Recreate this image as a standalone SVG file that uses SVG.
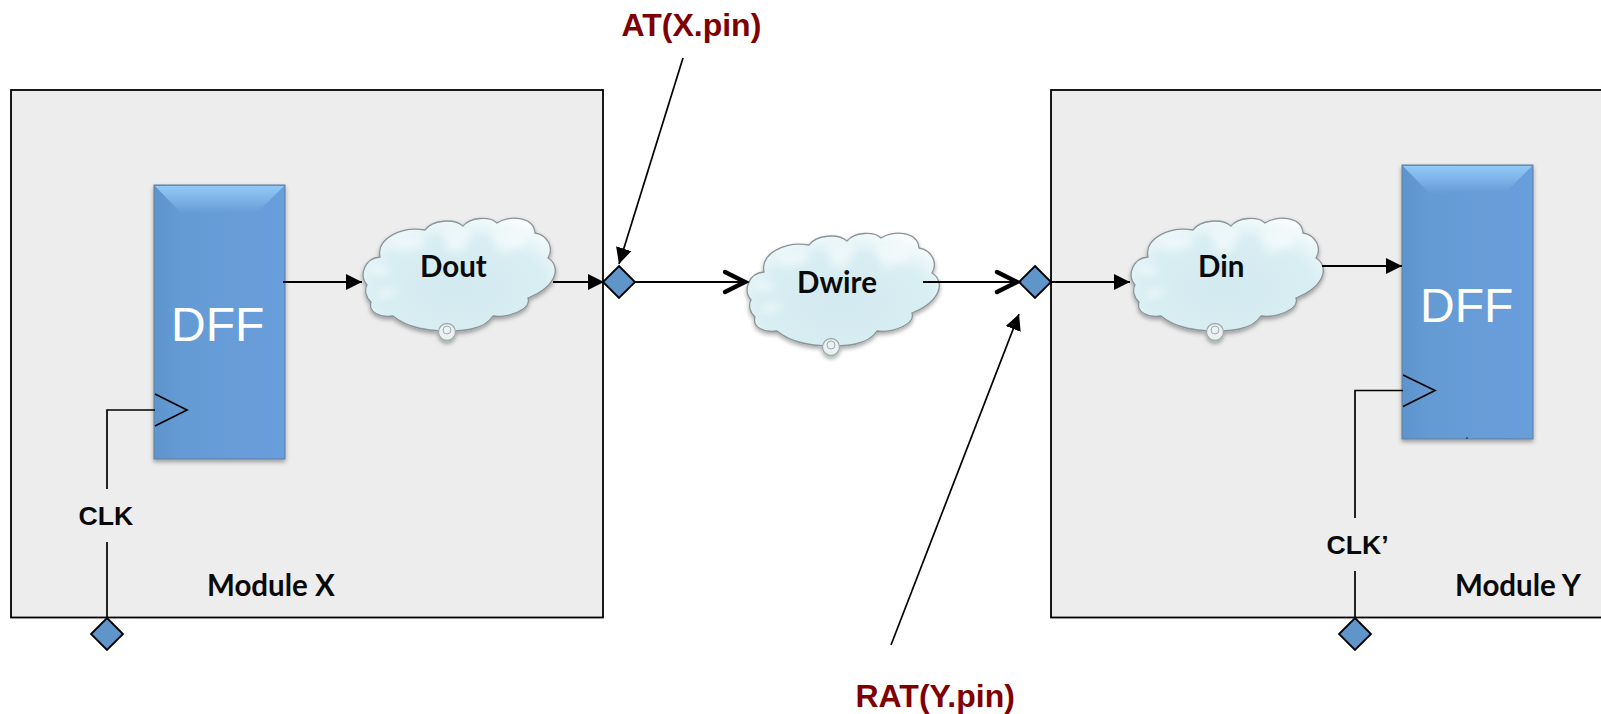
<svg xmlns="http://www.w3.org/2000/svg" width="1601" height="714" viewBox="0 0 1601 714">
<style>
.module{fill:#ededed;stroke:#000;stroke-width:1.8}
.pin{fill:#5f95c9;stroke:#000;stroke-width:1.8}
.wire{fill:none;stroke:#000;stroke-width:1.9}
.thin{fill:none;stroke:#000;stroke-width:1.7}
.chev{fill:none;stroke:#000;stroke-width:4.4;stroke-linecap:round;stroke-linejoin:miter}
.lbl{font-family:"Lato","Liberation Sans",sans-serif;font-weight:700;font-size:29.5px;fill:#0a0a0a}
.clk{font-family:"Liberation Sans",Arial,sans-serif;font-weight:700;font-size:26.6px;fill:#0a0a0a}
.tim{font-family:"Liberation Sans",Arial,sans-serif;font-weight:700;font-size:32px;fill:#7f0000}
.dff{font-family:"Liberation Sans",Arial,sans-serif;font-size:48px;fill:#fff}
</style>
<defs>
<marker id="head" markerUnits="userSpaceOnUse" markerWidth="16" markerHeight="16" refX="16" refY="8" orient="auto"><path d="M0 0L16 8L0 16Z" fill="#000"/></marker>
<linearGradient id="dffBody" x1="0" y1="0" x2="1" y2="0"><stop offset="0" stop-color="#5e94cc"/><stop offset="0.2" stop-color="#659bd4"/><stop offset="1" stop-color="#689edc"/></linearGradient>
<linearGradient id="dffTop" x1="0" y1="0" x2="0" y2="1"><stop offset="0" stop-color="#93c9f7"/><stop offset="1" stop-color="#669cd7"/></linearGradient>
<radialGradient id="cloudFill" cx="0.5" cy="0.62" r="0.68"><stop offset="0" stop-color="#d2e9ef"/><stop offset="0.65" stop-color="#d8eef3"/><stop offset="1" stop-color="#fbfdfd"/></radialGradient>
<filter id="soft" x="-10%" y="-10%" width="120%" height="125%"><feDropShadow dx="0" dy="2.500" stdDeviation="2" flood-color="#000" flood-opacity="0.35"/></filter>
<filter id="blur" x="-30%" y="-30%" width="160%" height="160%"><feGaussianBlur stdDeviation="4.500"/></filter>
<symbol id="dffShape" width="135" height="282" viewBox="0 0 135 282" overflow="visible">
<rect x="0" y="0" width="131" height="274" fill="url(#dffBody)" stroke="#5d7f9f" stroke-width="1" filter="url(#soft)"/>
<path d="M1 1H130L103 28H27Z" fill="url(#dffTop)"/>
</symbol>
<symbol id="cloud" width="200" height="135" viewBox="0 0 200 135" overflow="visible">
<g filter="url(#soft)">
<path d="M5 67C-3 58 2 40 18 39C14 20 40 8 63 12C70 2 92 0 101 8C108 -1 128 -2 135 5C146 -3 172 -2 173 15C186 17 192 30 186 40C199 48 196 68 166 80C170 92 145 100 131 98C122 112 98 114 85 112C70 114 45 110 31 98C18 100 6 94 9 84C4 80 2 72 5 67Z" fill="url(#cloudFill)" stroke="#8a9496" stroke-width="1.300"/>
<circle cx="85" cy="114" r="8.500" fill="#e9f1f2" stroke="#a2abad" stroke-width="1.300"/>
<circle cx="85" cy="112" r="4" fill="none" stroke="#a2abad" stroke-width="1"/>
</g>
<g fill="#fff" opacity="0.55" filter="url(#blur)">
<path d="M10 50L22 46L28 56L12 58Z"/>
<path d="M16 72L38 70L30 78L16 80Z"/>
<path d="M30 24L60 18L64 28L38 34Z"/>
<path d="M80 12L110 12L102 34L86 34Z"/>
<path d="M128 14L162 12L164 28L138 36Z"/>
</g>
</symbol>
</defs>
<rect width="1601" height="714" fill="#fff"/>

<g id="module-x"><rect class="module" x="11" y="90" width="592" height="527.500"/><text class="lbl" x="207" y="596">Module X</text></g>
<g id="module-y"><rect class="module" x="1051" y="90" width="560" height="527.500"/><text class="lbl" x="1455" y="596">Module Y</text></g>

<g id="dff-x"><use href="#dffShape" x="154" y="185"/><text class="dff" x="171" y="341">DFF</text></g>
<g id="dff-y"><use href="#dffShape" x="1402" y="165"/><line x1="1467" y1="437" x2="1467" y2="439" stroke="#222" stroke-width="1"/><text class="dff" x="1420" y="322">DFF</text></g>
<g id="dout"><use href="#cloud" x="362" y="218"/><text class="lbl" x="420" y="277">Dout</text></g>
<g id="dwire"><use href="#cloud" x="746" y="233"/><text class="lbl" x="797" y="293">Dwire</text></g>
<g id="din"><use href="#cloud" x="1130" y="218"/><text class="lbl" x="1198" y="277">Din</text></g>

<g id="pin-x-out"><path class="pin" d="M619 266L635 282L619 298L603 282Z"/></g>
<g id="pin-y-in"><path class="pin" d="M1035 266L1051 282L1035 298L1019 282Z"/></g>
<g id="pin-clk"><path class="pin" d="M107 618L123 634L107 650L91 634Z"/></g>
<g id="pin-clk2"><path class="pin" d="M1355 618L1371 634L1355 650L1339 634Z"/></g>

<g id="connectors">
<line class="wire" x1="283" y1="282" x2="362" y2="282" marker-end="url(#head)"/>
<line class="wire" x1="553" y1="282" x2="604" y2="282" marker-end="url(#head)"/>
<line class="wire" x1="635" y1="282" x2="745" y2="282"/>
<path class="chev" d="M725 272L745 282L725 292"/>
<line class="wire" x1="923" y1="282" x2="1017" y2="282"/>
<path class="chev" d="M997 272L1017 282L997 292"/>
<line class="wire" x1="1051" y1="282" x2="1130" y2="282" marker-end="url(#head)"/>
<line class="wire" x1="1322" y1="266" x2="1402" y2="266" marker-end="url(#head)"/>
<line class="thin" x1="683" y1="58" x2="619" y2="264" marker-end="url(#head)"/>
<line class="thin" x1="891" y1="645" x2="1019" y2="314" marker-end="url(#head)"/>
<path class="thin" d="M107 617V542M107 489V410H155"/>
<path class="thin" d="M155 394L187 410L155 426"/>
<path class="thin" d="M1355 617V571M1355 518V390.500H1403"/>
<path class="thin" d="M1403 375L1435 390.500L1403 406.500"/>
</g>

<text class="clk" x="78.500" y="525">CLK</text>
<text class="clk" x="1326.500" y="554">CLK’</text>
<text class="tim" x="621.500" y="36">AT(X.pin)</text>
<text class="tim" x="855.500" y="707">RAT(Y.pin)</text>
</svg>
